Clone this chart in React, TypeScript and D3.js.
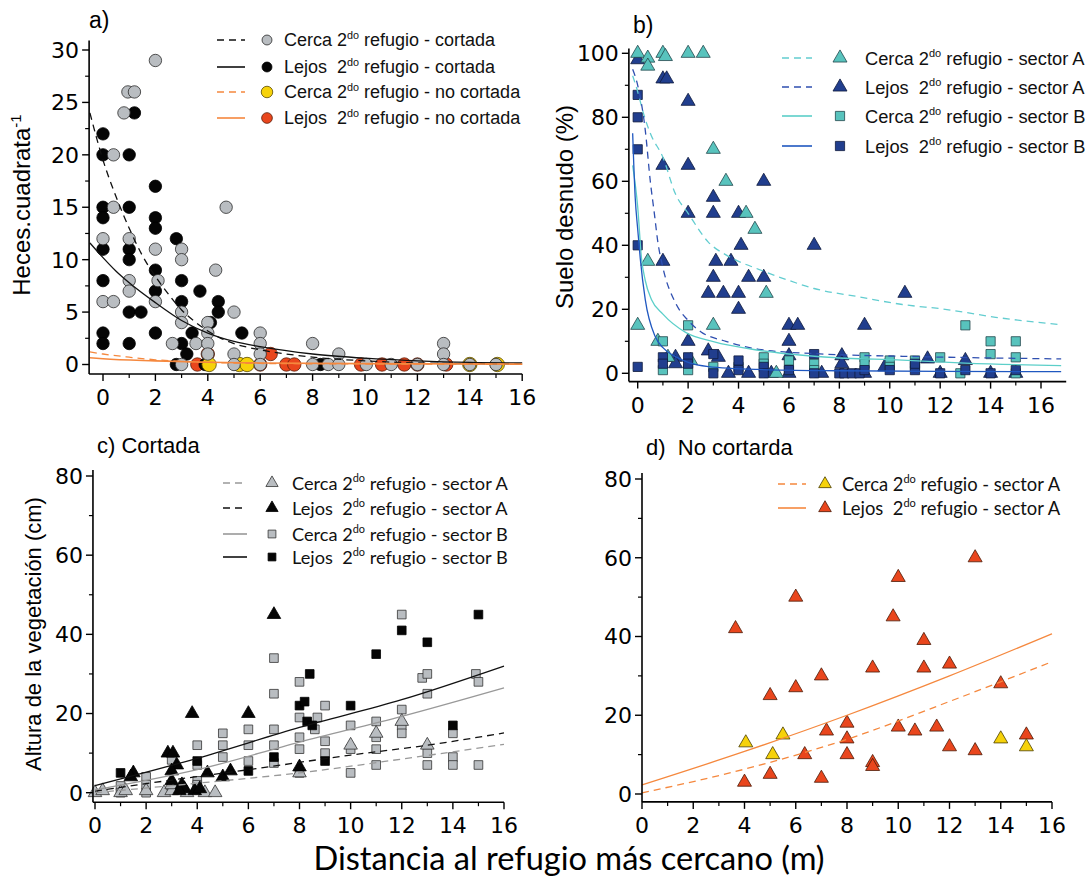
import React from "react";
import * as d3 from "d3";

type Pt = [number, number];

// ---------- a) heces ----------
const aCercaCortada: Pt[] = [
  [2, 29], [0.8, 24], [0.95, 26], [1.2, 26], [0.4, 20], [0.4, 15], [4.7, 15], [0, 12], [1, 12],
  [2, 11], [3, 11], [3, 10], [4.3, 9], [1, 8], [2.1, 8], [1, 7], [0, 6], [0.4, 6], [2, 6], [3, 5],
  [5, 5], [3, 4], [4, 4], [4, 3], [6, 3], [2.65, 2], [3.55, 2], [4, 2], [6, 2], [8, 2], [13, 2],
  [4, 1], [5, 1], [6, 1], [9, 1], [13, 1], [3, 0], [5, 0], [6, 0], [8, 0], [8.6, 0], [9, 0],
  [10.05, 0], [11, 0], [12, 0], [13, 0], [14, 0], [15, 0]
];
const aLejosCortada: Pt[] = [
  [1.2, 24], [0, 22], [0, 20], [1, 20], [2, 17], [0, 15], [1, 15], [0, 14], [2, 14], [2, 13],
  [2.8, 12], [0, 11], [1, 11], [1, 10], [2, 9], [3, 8], [0, 8], [2, 7], [3.7, 7], [3, 6], [4.4, 6],
  [1, 5], [1.45, 5], [4.4, 5], [4.1, 4], [3.4, 3], [5.3, 3], [0, 3], [2, 3], [0, 2], [1, 2], [3, 2],
  [3.2, 1], [2.8, 0], [3.9, 0], [8.3, 0]
];
const aCercaNoCortada: Pt[] = [[4.05, 0], [5.2, 0], [5.5, 0], [14, 0], [15.05, 0]];
const aLejosNoCortada: Pt[] = [
  [3.6, 0], [4, 1], [6.4, 1], [6, 0], [7, 0], [7.3, 0], [9.85, 0], [10.65, 0], [11.5, 0], [12, 0], [13.1, 0]
];
const aFitCercaCortada: Pt[] = [
  [-0.5, 24], [0, 19.5], [0.5, 16], [1, 13], [1.5, 10.4], [2, 8.4], [2.5, 6.7], [3, 5.2], [3.5, 4.1],
  [4, 3.2], [4.5, 2.5], [5, 2], [6, 1.4], [7, 1], [8, 0.7], [10, 0.35], [12, 0.15], [16, 0.05]
];
const aFitLejosCortada: Pt[] = [
  [-0.5, 11.6], [0, 10.2], [0.5, 8.9], [1, 7.8], [2, 5.9], [3, 4.2], [4, 3], [5, 2.2], [6, 1.7],
  [8, 1], [10, 0.6], [12, 0.35], [14, 0.2], [16, 0.15]
];
const aFitCercaNoCortada: Pt[] = [[-0.5, 1.2], [0, 1], [1, 0.7], [2, 0.45], [3, 0.3], [4, 0.2], [6, 0.1], [10, 0.05], [16, 0.02]];
const aFitLejosNoCortada: Pt[] = [[-0.5, 0.65], [0, 0.55], [2, 0.35], [4, 0.22], [6, 0.15], [10, 0.08], [16, 0.04]];

// ---------- b) suelo desnudo ----------
const bCercaA: Pt[] = [
  [0, 100], [0.4, 98.5], [0.4, 96], [1, 100], [1.1, 99], [2, 100], [2.6, 100], [3, 70], [3.5, 60],
  [4.3, 50], [4.65, 45], [0.4, 35], [5.1, 25], [0, 15], [3, 15], [0.8, 10], [1.2, 5], [2.1, 4], [5.5, 0]
];
const bLejosA: Pt[] = [
  [0, 98], [1, 92], [1.15, 92], [2, 85], [1, 65], [2, 65], [5, 60], [3, 55], [2, 50], [3, 50], [4, 50],
  [4.1, 40], [7, 40], [1, 35], [3.1, 35], [3.7, 35], [3, 30], [4.4, 30], [5, 30], [2.8, 25], [3.4, 25],
  [4, 25], [10.6, 25], [4, 20], [6, 15], [6.35, 15], [9, 15], [2, 10], [6, 10], [2.8, 7], [3.2, 5],
  [1.5, 5], [1.5, 3], [6, 5.5], [8.1, 5.5], [8.1, 3], [11.5, 4.5], [13, 4], [9.8, 2], [3.6, 0], [4.4, 0],
  [5.3, 0], [6, 0], [7.3, 0], [9, 0], [12, 0], [14, 0], [15, 0]
];
const bCercaB: Pt[] = [
  [2, 15], [1, 10], [13, 15], [14, 10], [15, 10], [14, 6], [12, 5], [15, 5], [11, 4], [10, 4], [9, 5],
  [9, 3], [7, 3], [6, 4], [5, 5], [5, 3], [4, 2], [3, 2], [2, 1], [1, 1], [7, 1], [10, 2], [12.8, 0],
  [15, 0], [6, 1], [11, 2]
];
const bLejosB: Pt[] = [
  [0, 87], [0, 80], [0, 70], [0, 40], [0, 2], [1, 5], [1, 3], [2, 5], [2, 3], [3, 6], [3, 0], [4, 4],
  [4, 1], [5, 2], [5, 0], [6, 1], [7, 6], [7, 0], [8, 0], [8.2, 0], [8.5, 0], [8.8, 0], [9, 1], [10, 1],
  [11, 1], [11, 3], [12, 0], [13, 1], [14, 0], [15, 1]
];
const bFitCercaA: Pt[] = [
  [-0.2, 93], [0, 88], [0.2, 82], [0.5, 75], [1, 67.5], [1.5, 56], [2, 50], [2.8, 41], [3.5, 37],
  [4, 35], [4.8, 32.5], [6, 29], [7, 26.5], [8.7, 24], [10.5, 21.5], [12.2, 20], [14.2, 17.5], [16.8, 15.2]
];
const bFitLejosA: Pt[] = [
  [-0.2, 95], [0, 90], [0.3, 76], [0.5, 60], [0.66, 50], [0.8, 41], [1, 33], [1.5, 22], [2, 16.5],
  [2.5, 13], [3.5, 10], [4.8, 7.5], [7.4, 6], [10.6, 5.3], [16.8, 4.5]
];
const bFitCercaB: Pt[] = [
  [-0.2, 65], [0, 52], [0.15, 36], [0.3, 29], [0.55, 23], [1, 18.5], [1.9, 12.8], [3, 9.9], [4.8, 7.2],
  [7.4, 5.1], [10.5, 4.1], [13, 3.2], [16.8, 2.4]
];
const bFitLejosB: Pt[] = [
  [-0.2, 75], [-0.1, 55], [0, 45], [0.1, 36], [0.3, 23], [0.7, 11.4], [1, 8], [1.5, 5.2], [2, 3.4],
  [2.8, 2.1], [4.8, 1.2], [8, 0.8], [12, 0.6], [16.8, 0.5]
];

// ---------- c) cortada ----------
const cCercaA: Pt[] = [
  [0, 0], [0.3, 0.5], [1, 0], [1.2, 0.5], [2, 0.5], [2.7, 0], [3, 0.5], [3.6, 0], [4.3, 0], [4.7, 0],
  [8, 5], [10, 12], [11, 15], [12, 18], [13, 12], [3, 2]
];
const cLejosA: Pt[] = [
  [1.5, 5], [1.4, 4], [2.85, 10], [3.05, 10], [3.2, 7], [3, 5.5], [3, 3], [3.4, 2], [3.5, 1], [3.9, 0.5],
  [4.1, 1], [4.4, 5], [5, 4], [5.3, 5.5], [3.8, 20], [6, 20], [7, 45], [8, 6.5], [3.3, 0.5]
];
const cCercaB: Pt[] = [
  [7, 34], [8, 28], [12.8, 29], [13, 30], [14.9, 30], [15, 28], [7, 25], [13, 25], [9, 22], [8, 19],
  [8.7, 19], [12, 21], [11, 18], [5, 15], [6, 16], [7, 16], [10, 17], [12, 17], [12, 15], [8.6, 16],
  [4, 12], [5, 12], [6, 12], [7, 12], [11, 11], [9, 13], [5, 9], [6, 8], [7, 7.5], [3, 8.3], [4, 7],
  [8, 14], [8, 11], [9, 10], [10, 11], [10, 5], [11, 7], [11, 14], [13, 10], [13, 7], [8, 5], [14, 15],
  [14, 9], [14, 7], [15, 7], [1, 1.7], [1, 0], [2, 4], [2, 2], [2, 0], [3, 1.5], [4, 3], [4, 2], [12, 45]
];
const cLejosB: Pt[] = [
  [1, 5], [4, 8], [6, 5.5], [7, 9], [8, 22], [8.2, 23], [8.4, 30], [8.3, 18], [8.5, 17], [9, 8],
  [10, 22], [11, 35], [12, 41], [13, 38], [14, 17], [15, 45]
];
const cFitCercaA: Pt[] = [[0, 0], [4, 2.4], [8, 5], [12, 8.5], [16, 12.2]];
const cFitLejosA: Pt[] = [[0, 0.4], [3, 3.2], [6, 5.8], [10, 9.5], [13, 12], [16, 15.1]];
const cFitCercaB: Pt[] = [[0, 0.7], [4, 5.8], [8, 12.8], [12, 19.3], [16, 26.5]];
const cFitLejosB: Pt[] = [[0, 1.8], [4, 8.7], [8, 16.5], [12, 23.5], [16, 32]];

// ---------- d) no cortada ----------
const dCercaA: Pt[] = [[4.05, 13], [5.1, 10], [5.5, 15], [14, 14], [15, 12]];
const dLejosA: Pt[] = [
  [3.65, 42], [4, 3], [5, 25], [5, 5], [6, 50], [6, 27], [6.35, 10], [7, 30], [7, 4], [7.2, 16],
  [8, 18], [8, 14], [8, 10], [9, 32], [9, 8], [9, 7], [9.8, 45], [10, 55], [10, 17], [10.65, 16],
  [11, 39], [11, 32], [11.5, 17], [12, 33], [12, 12], [13, 60], [13, 11], [14, 28], [15, 15]
];
const dFitCercaA: Pt[] = [[0, 0.3], [4, 6.3], [8, 13.9], [12, 23.5], [16, 33.6]];
const dFitLejosA: Pt[] = [[0, 2.3], [4, 10.8], [8, 20], [12, 30], [16, 40.7]];

const xMajor = [0, 2, 4, 6, 8, 10, 12, 14, 16];
const xMinor = [1, 3, 5, 7, 9, 11, 13, 15];
const aYMajor = [0, 5, 10, 15, 20, 25, 30];
const aYMinor = [2.5, 7.5, 12.5, 17.5, 22.5, 27.5];
const bYMajor = [0, 20, 40, 60, 80, 100];
const bYMinor = [10, 30, 50, 70, 90];
const cdYMajor = [0, 20, 40, 60, 80];
const cdYMinor = [10, 30, 50, 70];

const legendA = [
  ["Cerca 2", " refugio - cortada"],
  ["Lejos  2", " refugio - cortada"],
  ["Cerca 2", " refugio - no cortada"],
  ["Lejos  2", " refugio - no cortada"]
];
const legendSector = [
  ["Cerca 2", " refugio - sector A"],
  ["Lejos  2", " refugio - sector A"],
  ["Cerca 2", " refugio - sector B"],
  ["Lejos  2", " refugio - sector B"]
];

const GRAY = "#b9bdc1";
const YELLOW = "#f6d20a";
const RED = "#e9461d";
const CYAN = "#58c3bd";
const NAVY = "#213e8e";
const ORANGE = "#f5883e";

type Shape = "circle" | "triangle" | "square";
type MarkerStyle = { shape: Shape; fill: string; stroke: string; size: number };
type Series = { data: Pt[]; m: MarkerStyle };
type Fit = { data: Pt[]; color: string; dash?: string; width?: number };
type LegendRow = { y: number; text: string[]; fit: Fit; m: MarkerStyle };

const TICK_FONT = "'DejaVu Sans', sans-serif";
const ARIAL = "'Liberation Sans', Arial, sans-serif";
const CALIBRI = "Lato, 'Open Sans', sans-serif";

function Marker({ m, x, y, scale = 1 }: { m: MarkerStyle; x: number; y: number; scale?: number }) {
  if (m.shape === "circle") {
    return <circle cx={x} cy={y} r={m.size * scale} fill={m.fill} stroke={m.stroke} strokeWidth={0.8} />;
  }
  const sym = d3.symbol()
    .type(m.shape === "triangle" ? d3.symbolTriangle : d3.symbolSquare)
    .size(m.size * scale * scale);
  return <path transform={`translate(${x},${y})`} d={sym() as string} fill={m.fill} stroke={m.stroke} strokeWidth={0.8} />;
}

function Panel({
  xRange, xExtent, yDomain, yRange, yExtent, yMajor, yMinor, series, fits,
  legend, legendX, legendFont, legendSize, markerScale = 1
}: {
  xRange: [number, number]; xExtent: [number, number];
  yDomain: [number, number]; yRange: [number, number]; yExtent: [number, number];
  yMajor: number[]; yMinor: number[]; series: Series[]; fits: Fit[];
  legend: LegendRow[]; legendX: [number, number, number, number];
  legendFont: string; legendSize: number; markerScale?: number;
}) {
  const x = d3.scaleLinear().domain([0, 16]).range(xRange);
  const y = d3.scaleLinear().domain(yDomain).range(yRange);
  const left = x(xExtent[0]);
  const right = x(xExtent[1]);
  const bottom = y(yExtent[0]);
  const top = y(yExtent[1]);
  const line = d3.line<Pt>().x(d => x(d[0])).y(d => y(d[1])).curve(d3.curveMonotoneX);
  const [lx1, lx2, mx, tx] = legendX;

  return (
    <g>
      {series.map((s, i) => (
        <g key={i}>
          {s.data.map((d, j) => <Marker key={j} m={s.m} x={x(d[0])} y={y(d[1])} />)}
        </g>
      ))}
      {fits.map((f, i) => (
        <path key={i} d={line(f.data) as string} fill="none" stroke={f.color}
          strokeWidth={f.width ?? 1.3} strokeDasharray={f.dash} />
      ))}

      <line x1={left} x2={right} y1={bottom} y2={bottom} stroke="#000" strokeWidth={1.6} />
      <line x1={left} x2={left} y1={bottom} y2={top} stroke="#000" strokeWidth={1.6} />
      {xMajor.map(t => (
        <g key={"xM" + t}>
          <line x1={x(t)} x2={x(t)} y1={bottom} y2={bottom + 7} stroke="#000" strokeWidth={1.4} />
          <text x={x(t)} y={bottom + 31} textAnchor="middle" fontFamily={TICK_FONT} fontSize={22}>{t}</text>
        </g>
      ))}
      {xMinor.map(t => (
        <line key={"xm" + t} x1={x(t)} x2={x(t)} y1={bottom} y2={bottom + 4} stroke="#000" strokeWidth={1.2} />
      ))}
      {yMajor.map(t => (
        <g key={"yM" + t}>
          <line x1={left - 7} x2={left} y1={y(t)} y2={y(t)} stroke="#000" strokeWidth={1.4} />
          <text x={left - 10} y={y(t)} dy="0.36em" textAnchor="end" fontFamily={TICK_FONT} fontSize={22}>{t}</text>
        </g>
      ))}
      {yMinor.map(t => (
        <line key={"ym" + t} x1={left - 4} x2={left} y1={y(t)} y2={y(t)} stroke="#000" strokeWidth={1.2} />
      ))}

      {legend.map((r, i) => (
        <g key={"lg" + i}>
          <line x1={lx1} x2={lx2} y1={r.y} y2={r.y} stroke={r.fit.color} strokeWidth={1.6} strokeDasharray={r.fit.dash} />
          <Marker m={r.m} x={mx} y={r.y} scale={markerScale} />
          <text x={tx} y={r.y + legendSize * 0.36} fontFamily={legendFont} fontSize={legendSize}
            style={{ whiteSpace: "pre" }} fill="#111">
            {r.text[0]}
            <tspan dy={-legendSize * 0.42} fontSize={legendSize * 0.6}>do</tspan>
            <tspan dy={legendSize * 0.42} fontSize={legendSize}>{r.text[1]}</tspan>
          </text>
        </g>
      ))}
    </g>
  );
}

export default function App() {
  const grayCircle: MarkerStyle = { shape: "circle", fill: GRAY, stroke: "#2b2b2b", size: 6.2 };
  const blackCircle: MarkerStyle = { shape: "circle", fill: "#050505", stroke: "#000", size: 6.2 };
  const yellowCircle: MarkerStyle = { shape: "circle", fill: YELLOW, stroke: "#5b4a00", size: 7.2 };
  const redCircle: MarkerStyle = { shape: "circle", fill: RED, stroke: "#5a1e0a", size: 6.7 };

  const aFits: Fit[] = [
    { data: aFitCercaCortada, color: "#111", dash: "7,5" },
    { data: aFitLejosCortada, color: "#111" },
    { data: aFitCercaNoCortada, color: ORANGE, dash: "7,5" },
    { data: aFitLejosNoCortada, color: ORANGE, width: 1.6 }
  ];
  const aLegendMarkers = [grayCircle, blackCircle, yellowCircle, redCircle];
  const aLegendY = [40, 67, 92, 118];

  const cyanTri: MarkerStyle = { shape: "triangle", fill: CYAN, stroke: "#23484c", size: 85 };
  const navyTri: MarkerStyle = { shape: "triangle", fill: NAVY, stroke: "#0f1b3c", size: 85 };
  const cyanSq: MarkerStyle = { shape: "square", fill: CYAN, stroke: "#23484c", size: 85 };
  const navySq: MarkerStyle = { shape: "square", fill: NAVY, stroke: "#0f1b3c", size: 85 };
  const bFits: Fit[] = [
    { data: bFitCercaA, color: "#63cdd0", dash: "7,5" },
    { data: bFitLejosA, color: "#2f4fb0", dash: "7,5" },
    { data: bFitCercaB, color: "#5ccfc9" },
    { data: bFitLejosB, color: "#2058c0" }
  ];
  const bLegendY = [58, 87, 116, 146];

  const grayTri: MarkerStyle = { shape: "triangle", fill: GRAY, stroke: "#333", size: 80 };
  const blackTri: MarkerStyle = { shape: "triangle", fill: "#050505", stroke: "#000", size: 80 };
  const graySq: MarkerStyle = { shape: "square", fill: GRAY, stroke: "#333", size: 75 };
  const blackSq: MarkerStyle = { shape: "square", fill: "#050505", stroke: "#000", size: 75 };
  const cFits: Fit[] = [
    { data: cFitCercaA, color: "#999", dash: "7,5" },
    { data: cFitLejosA, color: "#111", dash: "7,5" },
    { data: cFitCercaB, color: "#999" },
    { data: cFitLejosB, color: "#111" }
  ];
  const cLegendY = [483, 508, 534, 557];

  const yellowTri: MarkerStyle = { shape: "triangle", fill: YELLOW, stroke: "#4a3d00", size: 85 };
  const redTri: MarkerStyle = { shape: "triangle", fill: RED, stroke: "#4a1a08", size: 85 };
  const dFits: Fit[] = [
    { data: dFitCercaA, color: ORANGE, dash: "7,5" },
    { data: dFitLejosA, color: ORANGE }
  ];
  const dLegendY = [484, 508];

  return (
    <svg width={1092} height={886} style={{ position: "absolute", left: 0, top: 0, background: "#fff" }}>
      {/* a) */}
      <Panel
        xRange={[103, 522.2]} xExtent={[-0.53, 16]}
        yDomain={[0, 30]} yRange={[364.5, 50]} yExtent={[-0.9, 30.9]}
        yMajor={aYMajor} yMinor={aYMinor}
        series={[
          { data: aLejosNoCortada, m: redCircle },
          { data: aLejosCortada, m: blackCircle },
          { data: aCercaNoCortada, m: yellowCircle },
          { data: aCercaCortada, m: grayCircle }
        ]}
        fits={aFits}
        legend={legendA.map((t, i) => ({ y: aLegendY[i], text: t, fit: aFits[i], m: aLegendMarkers[i] }))}
        legendX={[217, 245, 267, 284]} legendFont={ARIAL} legendSize={18} markerScale={0.8}
      />
      {/* b) */}
      <Panel
        xRange={[637.7, 1041]} xExtent={[-0.35, 17]}
        yDomain={[0, 100]} yRange={[373.3, 53.3]} yExtent={[-2.6, 101.5]}
        yMajor={bYMajor} yMinor={bYMinor}
        series={[
          { data: bLejosA, m: navyTri },
          { data: bCercaA, m: cyanTri },
          { data: bCercaB, m: cyanSq },
          { data: bLejosB, m: navySq }
        ]}
        fits={bFits}
        legend={legendSector.map((t, i) => ({
          y: bLegendY[i], text: t, fit: bFits[i], m: [cyanTri, navyTri, cyanSq, navySq][i]
        }))}
        legendX={[782, 812, 840, 865]} legendFont={ARIAL} legendSize={18.3}
      />
      {/* c) */}
      <Panel
        xRange={[95, 504]} xExtent={[-0.08, 16]}
        yDomain={[0, 80]} yRange={[792.7, 476]} yExtent={[-2.4, 81.5]}
        yMajor={cdYMajor} yMinor={cdYMinor}
        series={[
          { data: cCercaB, m: graySq },
          { data: cLejosB, m: blackSq },
          { data: cCercaA, m: grayTri },
          { data: cLejosA, m: blackTri }
        ]}
        fits={cFits}
        legend={legendSector.map((t, i) => ({
          y: cLegendY[i], text: t, fit: cFits[i], m: [grayTri, blackTri, graySq, blackSq][i]
        }))}
        legendX={[223, 247, 272, 292]} legendFont={CALIBRI} legendSize={18.2} markerScale={0.9}
      />
      {/* d) */}
      <Panel
        xRange={[642, 1052]} xExtent={[0, 16]}
        yDomain={[0, 80]} yRange={[794, 479]} yExtent={[-2, 81.5]}
        yMajor={cdYMajor} yMinor={cdYMinor}
        series={[
          { data: dLejosA, m: redTri },
          { data: dCercaA, m: yellowTri }
        ]}
        fits={dFits}
        legend={legendSector.slice(0, 2).map((t, i) => ({
          y: dLegendY[i], text: t, fit: dFits[i], m: [yellowTri, redTri][i]
        }))}
        legendX={[778, 806, 825, 842]} legendFont={CALIBRI} legendSize={18.4} markerScale={0.9}
      />

      <text x={89} y={28} fontFamily={ARIAL} fontSize={23}>a)</text>
      <text x={633} y={33} fontFamily={ARIAL} fontSize={23}>b)</text>
      <text x={97} y={453} fontFamily={ARIAL} fontSize={22} style={{ whiteSpace: "pre" }}>c) Cortada</text>
      <text x={646} y={455} fontFamily={ARIAL} fontSize={22} style={{ whiteSpace: "pre" }}>d)  No cortarda</text>

      <text transform="translate(30,205) rotate(-90)" textAnchor="middle" fontFamily={ARIAL} fontSize={24}>
        Heces.cuadrata<tspan dy={-9} fontSize={15}>-1</tspan>
      </text>
      <text transform="translate(573,207) rotate(-90)" textAnchor="middle" fontFamily={ARIAL} fontSize={24}>
        Suelo desnudo (%)
      </text>
      <text transform="translate(41,634) rotate(-90)" textAnchor="middle" fontFamily={ARIAL} fontSize={22}>
        Altura de la vegetación (cm)
      </text>
      <text x={569} y={870} textAnchor="middle" fontFamily={CALIBRI} fontSize={32.6}>
        Distancia al refugio más cercano (m)
      </text>
    </svg>
  );
}
